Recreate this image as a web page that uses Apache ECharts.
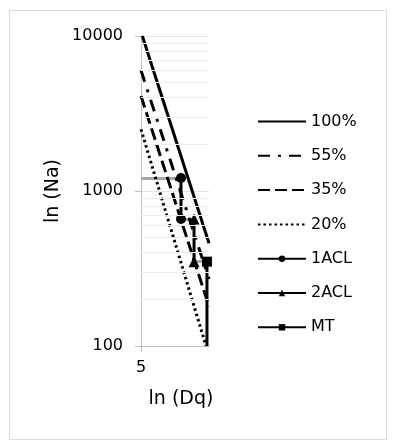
<!DOCTYPE html>
<html>
<head>
<meta charset="utf-8">
<script src="https://cdn.jsdelivr.net/npm/echarts@6/dist/echarts.min.js"></script>
<style>
  html, body { margin: 0; padding: 0; background: #fff; }
  #chart { width: 398px; height: 448px; }
</style>
</head>
<body>
<div id="chart"></div>
<script>
  // 数据 (x = Dq, y = Na)
  const xTicks = [5];
  const yTicks = [100, 1000, 10000];
  const minorGrid = [200, 300, 400, 500, 600, 700, 800, 900,
                     2000, 3000, 4000, 5000, 6000, 7000, 8000, 9000];

  const line100 = [[5.1, 10000], [10, 460]];
  const line55 = [[5, 6000], [10, 270]];
  const line35 = [[5, 4100], [10, 180]];
  const line20 = [[5, 2500], [9.78, 100]];
  const acl1 = [[7.94, 1213], [7.94, 660]];
  const acl2 = [[8.9, 660], [8.9, 350]];
  const mt = [[9.85, 350], [9.85, 100]];
  // 灰色台阶线
  const steps = [
    [[5, 1213], [7.94, 1213]],
    [[7.94, 660], [8.9, 660]],
    [[8.9, 350], [9.85, 350]]
  ];

  const font = 'DejaVu Sans, Verdana, sans-serif';
  // 没有标记的系列，图例里隐藏圆点
  const noDot = { opacity: 0 };

  const option = {
    animation: false,
    textStyle: { fontFamily: font },
    graphic: [{
      type: 'rect',
      shape: { x: 9.5, y: 10.5, width: 377, height: 429 },
      style: { fill: 'none', stroke: '#d9d9d9', lineWidth: 1 },
      silent: true
    }],
    grid: { left: 141, right: 189, top: 36, bottom: 102 },
    legend: {
      orient: 'vertical',
      left: 252,
      top: 107,
      itemWidth: 48,
      itemHeight: 8,
      itemGap: 15.3,
      textStyle: { fontSize: 16, color: '#000', fontFamily: font, lineHeight: 19 },
      data: [
        { name: '100%', itemStyle: noDot },
        { name: '55%', itemStyle: noDot },
        { name: '35%', itemStyle: noDot },
        { name: '20%', itemStyle: noDot },
        '1ACL', '2ACL', 'MT'
      ]
    },
    xAxis: {
      type: 'value',
      min: 5,
      max: 10,
      interval: 5,
      name: 'ln (Dq)',
      nameLocation: 'middle',
      nameGap: 44,
      nameTextStyle: { fontSize: 19, color: '#000', verticalAlign: 'top', padding: [0, 0, 0, 12] },
      axisLine: { lineStyle: { color: '#bfbfbf', width: 1 } },
      axisTick: { show: true, length: 6, customValues: xTicks, lineStyle: { color: '#bfbfbf' } },
      axisLabel: { customValues: xTicks, fontSize: 16, color: '#000', margin: 14 },
      splitLine: { show: true, lineStyle: { color: '#e3e3e3' } }
    },
    yAxis: {
      type: 'log',
      logBase: 10,
      min: 100,
      max: 10000,
      name: 'ln (Na)',
      nameLocation: 'middle',
      nameGap: 78,
      nameTextStyle: { fontSize: 19, color: '#000' },
      axisLine: { show: true, lineStyle: { color: '#bfbfbf', width: 1 } },
      axisTick: { show: true, length: 6, lineStyle: { color: '#bfbfbf' } },
      axisLabel: {
        fontSize: 16, color: '#000', margin: 18, customValues: yTicks,
        formatter: v => String(Math.round(v))
      },
      splitLine: { show: true, lineStyle: { color: '#e3e3e3' } }
    },
    series: [
      {
        // 次网格线
        type: 'line',
        data: [],
        silent: true,
        markLine: {
          silent: true,
          symbol: 'none',
          label: { show: false },
          lineStyle: { color: '#ececec', type: 'solid', width: 1 },
          data: minorGrid.map(v => ({ yAxis: v }))
        }
      },
      {
        type: 'lines',
        coordinateSystem: 'cartesian2d',
        silent: true,
        lineStyle: { color: '#a6a6a6', width: 3, opacity: 1 },
        data: steps.map(s => ({ coords: s }))
      },
      {
        name: '100%', type: 'line', data: line100, symbol: 'none',
        lineStyle: { color: '#000', width: 3 }, itemStyle: { color: '#000' }
      },
      {
        name: '55%', type: 'line', data: line55, symbol: 'none',
        lineStyle: { color: '#000', width: 3, type: [12, 8, 3, 8] }, itemStyle: { color: '#000' }
      },
      {
        name: '35%', type: 'line', data: line35, symbol: 'none',
        lineStyle: { color: '#000', width: 3, type: [12, 5] }, itemStyle: { color: '#000' }
      },
      {
        name: '20%', type: 'line', data: line20, symbol: 'none',
        lineStyle: { color: '#000', width: 3, type: [2.5, 3] }, itemStyle: { color: '#000' }
      },
      {
        name: '1ACL', type: 'line', data: acl1, symbol: 'circle', symbolSize: 10,
        lineStyle: { color: '#000', width: 3 }, itemStyle: { color: '#000' }
      },
      {
        name: '2ACL', type: 'line', data: acl2, symbol: 'triangle', symbolSize: 11,
        lineStyle: { color: '#000', width: 3 }, itemStyle: { color: '#000' }
      },
      {
        name: 'MT', type: 'line', symbol: 'rect', symbolSize: 10,
        data: mt.map((p, i) => i === 0 ? p : { value: p, symbol: 'none' }),
        lineStyle: { color: '#000', width: 3 }, itemStyle: { color: '#000' }
      }
    ]
  };

  const myChart = echarts.init(document.getElementById('chart'));
  myChart.setOption(option);
</script>
</body>
</html>
